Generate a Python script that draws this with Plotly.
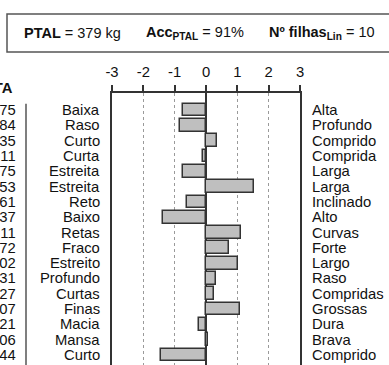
import plotly.graph_objects as go

# Trait rows: lower-pole label, upper-pole label and the PTA value
low_labels = ["Baixa", "Raso", "Curto", "Curta", "Estreita", "Estreita", "Reto", "Baixo",
              "Retas", "Fraco", "Estreito", "Profundo", "Curtas", "Finas", "Macia", "Mansa", "Curto"]
high_labels = ["Alta", "Profundo", "Comprido", "Comprida", "Larga", "Larga", "Inclinado", "Alto",
               "Curvas", "Forte", "Largo", "Raso", "Compridas", "Grossas", "Dura", "Brava", "Comprido"]
pta_values = [-0.75, -0.84, 0.35, -0.11, -0.75, 1.53, -0.61, -1.37,
              1.11, 0.72, 1.02, 0.31, 0.27, 1.07, -0.21, 0.06, -1.44]
x_ticks = [-3, -2, -1, 0, 1, 2, 3]

header_ptal = "379 kg"
header_acc = "91%"
header_daughters = "10"

W, H = 389, 365
ML, MR, MT, MB = 112, 89, 93, 0
PW = W - ML - MR
PH = H - MT - MB

FONT = "Liberation Sans, Arial, sans-serif"
TXT = "#111111"
LINE = "#333333"
LABEL_SIZE = 14.8

rows = list(range(len(pta_values)))


def px_x(px):
    return (px - ML) / PW


def px_y(py):
    return 1 + (MT - py) / PH


fig = go.Figure()
fig.add_trace(go.Bar(
    x=pta_values, y=rows, orientation="h", width=0.83,
    marker=dict(color="#bfbfbf", line=dict(color=LINE, width=1.5)),
    showlegend=False, hoverinfo="skip",
))

annotations = []
for r, lo, hi, v in zip(rows, low_labels, high_labels, pta_values):
    annotations.append(dict(x=0, y=r, xref="paper", yref="y", text=lo, showarrow=False,
                            xanchor="right", yanchor="middle", xshift=-10,
                            font=dict(family=FONT, size=LABEL_SIZE, color=TXT)))
    annotations.append(dict(x=1, y=r, xref="paper", yref="y", text=hi, showarrow=False,
                            xanchor="left", yanchor="middle", xshift=10,
                            font=dict(family=FONT, size=LABEL_SIZE, color=TXT)))
    annotations.append(dict(x=0, y=r, xref="paper", yref="y",
                            text=f"{v:.2f}".replace(".", ","), showarrow=False,
                            xanchor="right", yanchor="middle", xshift=18 - ML,
                            font=dict(family=FONT, size=LABEL_SIZE, color=TXT)))

# column header of the value table
annotations.append(dict(x=px_x(15), y=px_y(88), xref="paper", yref="paper", text="<b>PTA</b>",
                        showarrow=False, xanchor="right", yanchor="middle",
                        font=dict(family=FONT, size=LABEL_SIZE, color=TXT)))

box_y = px_y(33)
for xpix, txt in [(22, f"<b>PTAL</b> = {header_ptal}"),
                  (144, f"<b>Acc<sub>PTAL</sub></b> = {header_acc}"),
                  (267, f"<b>Nº filhas<sub>Lin</sub></b> = {header_daughters}")]:
    annotations.append(dict(x=px_x(xpix), y=box_y, xref="paper", yref="paper", text=txt,
                            showarrow=False, xanchor="left", yanchor="middle",
                            font=dict(family=FONT, size=14.5, color=TXT)))

shapes = [
    # summary box
    dict(type="rect", xref="paper", yref="paper", x0=px_x(7), x1=px_x(400),
         y0=px_y(52), y1=px_y(14), line=dict(color="#555555", width=1.5)),
    # table column separator
    dict(type="line", xref="paper", yref="y", x0=px_x(26), x1=px_x(26),
         y0=-0.4, y1=len(rows) + 1, line=dict(color="#555555", width=1.5)),
]

fig.update_layout(
    width=W, height=H,
    margin=dict(l=ML, r=MR, t=MT, b=MB, pad=0),
    paper_bgcolor="white", plot_bgcolor="white",
    bargap=0,
    annotations=annotations, shapes=shapes,
    xaxis=dict(side="top", range=[-3, 3], tickvals=x_ticks,
               ticktext=[str(t) for t in x_ticks],
               showline=True, linecolor=LINE, linewidth=1.5,
               ticks="outside", ticklen=6, tickwidth=1.5, tickcolor=LINE,
               ticklabelstandoff=2,
               showgrid=True, gridcolor="#9a9a9a", gridwidth=1, griddash="dot",
               zeroline=True, zerolinecolor=LINE, zerolinewidth=1.5,
               tickfont=dict(family=FONT, size=14.8, color=TXT), fixedrange=True),
    yaxis=dict(range=[16.65, -1.11], showticklabels=False, ticks="",
               showgrid=False, zeroline=False,
               showline=True, mirror=True, linecolor=LINE, linewidth=1.5, fixedrange=True),
    showlegend=False,
)

fig.write_html("out.html")
